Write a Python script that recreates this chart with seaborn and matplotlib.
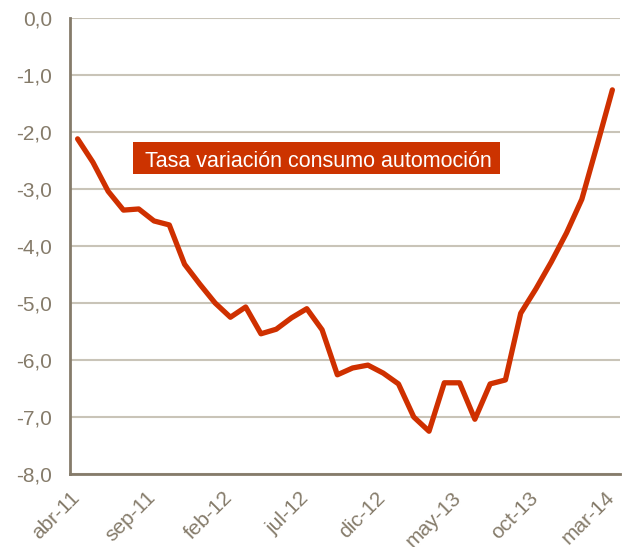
import numpy as np
import pandas as pd
import seaborn as sns
import matplotlib.pyplot as plt
import matplotlib.transforms as mtransforms
from matplotlib.patches import Rectangle

# Monthly values, abr-11 .. mar-14
meses = ["abr-11", "may-11", "jun-11", "jul-11", "ago-11", "sep-11", "oct-11", "nov-11", "dic-11",
         "ene-12", "feb-12", "mar-12", "abr-12", "may-12", "jun-12", "jul-12", "ago-12", "sep-12",
         "oct-12", "nov-12", "dic-12", "ene-13", "feb-13", "mar-13", "abr-13", "may-13", "jun-13",
         "jul-13", "ago-13", "sep-13", "oct-13", "nov-13", "dic-13", "ene-14", "feb-14", "mar-14"]
tasa = [-2.12, -2.53, -3.04, -3.37, -3.35, -3.56, -3.63, -4.32, -4.67, -5.00, -5.25, -5.07,
        -5.54, -5.46, -5.26, -5.10, -5.47, -6.26, -6.14, -6.09, -6.23, -6.42, -7.00, -7.25,
        -6.40, -6.40, -7.04, -6.42, -6.35, -5.18, -4.75, -4.28, -3.77, -3.18, -2.23, -1.26]
yticks = [0, -1, -2, -3, -4, -5, -6, -7, -8]

df = pd.DataFrame({"idx": range(len(meses)), "mes": meses, "tasa": tasa})

sns.set_style("white")
plt.rcParams['font.family'] = ['Liberation Sans', 'DejaVu Sans']

line_col = "#cf3000"
txt_col = "#857b6a"
spine_col = "#857b6a"
grid_col = "#c9c4b8"

fig = plt.figure(figsize=(6.22, 5.47), dpi=100)
ax = fig.add_axes([0.1125, 0.1335, 0.8843, 0.8335])

sns.lineplot(data=df, x="idx", y="tasa", color=line_col, linewidth=3.8, ax=ax)

ax.set_xlim(-0.5, len(meses) - 0.5)
ax.set_ylim(-8, 0)
ax.set_yticks(yticks)
ax.set_yticklabels([f"{v:.1f}".replace(".", ",") for v in yticks])
ax.set_xticks(df["idx"][::5])
ax.set_xticklabels(df["mes"][::5], rotation=45, ha="right", va="center",
                   rotation_mode="anchor")

ax.grid(axis="y", color=grid_col, linewidth=1.5)
ax.set_axisbelow(True)
ax.set_xlabel("")
ax.set_ylabel("")
for s in ["top", "right"]:
    ax.spines[s].set_visible(False)
for s in ["left", "bottom"]:
    ax.spines[s].set_color(spine_col)
    ax.spines[s].set_linewidth(2)
ax.tick_params(axis="both", length=0, labelsize=15, labelcolor=txt_col)
ax.tick_params(axis="y", pad=13)
ax.tick_params(axis="x", pad=15)

# nudge x labels a bit to the left
shift = mtransforms.ScaledTranslation(-1 / 100, 0, fig.dpi_scale_trans)
for lab in ax.get_xticklabels():
    lab.set_transform(lab.get_transform() + shift)

# label box
ax.add_patch(Rectangle((0.1145, 0.658), 0.6675, 0.070, transform=ax.transAxes,
                       facecolor="#cc3300", edgecolor="none", zorder=3))
ax.text(0.452, 0.673, "Tasa variación consumo automoción", transform=ax.transAxes,
        ha="center", va="baseline", color="white", fontsize=15.5, zorder=4)

fig.savefig("out.png", dpi=100)
